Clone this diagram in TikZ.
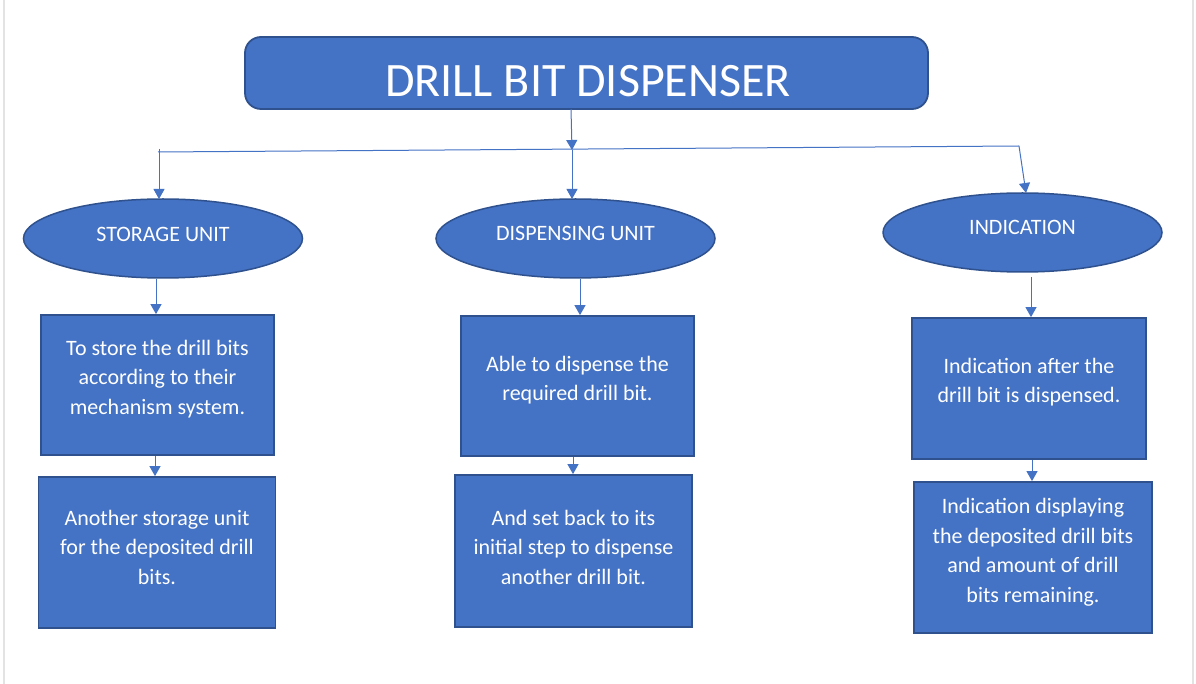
\documentclass[tikz,border=0pt]{standalone}
\usepackage{fontspec}
\setmainfont{Carlito}
\usetikzlibrary{arrows.meta,shapes.geometric}
\definecolor{fillblue}{HTML}{4472C4}
\definecolor{edgeblue}{HTML}{2F528F}
\definecolor{pageedge}{HTML}{E3E3E3}
\begin{document}
\begin{tikzpicture}[x=1pt,y=-1pt,
  shapebox/.style={draw=edgeblue,line width=1.8pt,fill=fillblue,inner sep=0pt,minimum width=#1},
  oval/.style={ellipse,draw=edgeblue,line width=1.5pt,fill=fillblue,inner sep=0pt,minimum width=279pt,minimum height=79pt},
  wtext/.style={text=white,align=center,font=\fontsize{22}{29.5}\selectfont,inner sep=0pt},
  otext/.style={text=white,font=\fontsize{22}{26}\selectfont,inner sep=0pt},
  conn/.style={draw=fillblue,line width=1pt,-{Triangle[width=11pt,length=10pt]}},
  plain/.style={draw=fillblue,line width=1pt}]
\useasboundingbox (0,0) rectangle (1196,684);
\fill[white] (0,0) rectangle (1196,684);
% page edges
\coordinate (pl1) at (4,0); \coordinate (pl2) at (4,684);
\coordinate (pr1) at (1193,0); \coordinate (pr2) at (1193,684);
\draw[pageedge,line width=2.5pt] (pl1) -- (pl2);
\draw[pageedge,line width=2.5pt] (pr1) -- (pr2);
% title
\node[shapebox=683pt,minimum height=72pt,rounded corners=16pt] (title) at (586.5,73) {};
\node[text=white,font=\fontsize{48}{52}\selectfont,inner sep=0pt] (titletext) at (588,81) {DRILL BIT DISPENSER};
% ellipses
\node[oval] (e1) at (163,238.5) {};
\node[oval] (e2) at (575.5,238.5) {};
\node[oval] (e3) at (1022.5,232.5) {};
\node[otext] (t1) at (163,234) {STORAGE UNIT};
\node[otext] (t2) at (575.5,233) {DISPENSING UNIT};
\node[otext] (t3) at (1022.5,227) {INDICATION};
% boxes
\node[shapebox=233pt,minimum height=140pt] (b1) at (157.5,385) {};
\node[shapebox=237pt,minimum height=151pt] (c1) at (157,552.5) {};
\node[shapebox=233pt,minimum height=140pt] (b2) at (577.5,386) {};
\node[shapebox=237pt,minimum height=152pt] (c2) at (573.5,551) {};
\node[shapebox=234pt,minimum height=141pt] (b3) at (1029,388.5) {};
\node[shapebox=238pt,minimum height=151pt] (c3) at (1033,557.5) {};
\node[wtext] (tb1) at (157.5,379) {To store the drill bits\\according to their\\mechanism system.};
\node[wtext] (tc1) at (157,547) {Another storage unit\\for the deposited drill\\bits.};
\node[wtext] (tb2) at (577.5,380) {Able to dispense the\\required drill bit.};
\node[wtext] (tc2) at (573.5,547) {And set back to its\\initial step to dispense\\another drill bit.};
\node[wtext] (tb3) at (1029,382) {Indication after the\\drill bit is dispensed.};
\node[wtext] (tc3) at (1033,552) {Indication displaying\\the deposited drill bits\\and amount of drill\\bits remaining.};
% bus
\coordinate (busL) at (158,152);
\coordinate (busLtop) at (159,149);
\coordinate (busM) at (572,150);
\coordinate (busR) at (1019,146);
\coordinate (titleout) at (571,109);
\coordinate (e1in) at (159,199);
\coordinate (e2in) at (572,199);
\coordinate (e3in) at (1026,193);
\draw[conn] (titleout) -- (busM);
\draw[plain] (busL) -- (busR);
\draw[conn] (busLtop) -- (e1in);
\draw[conn] (busM) -- (e2in);
\draw[conn] (busR) -- (e3in);
% down arrows
\draw[conn] (e1.south -| 156,0) -- (b1.north -| 156,0);
\draw[conn] (e2.south -| 580,0) -- (b2.north -| 580,0);
\draw[conn] (1031,277) -- (b3.north -| 1031,0);
\draw[conn] (b1.south -| 155,0) -- (c1.north -| 155,0);
\draw[conn] (b2.south -| 573,0) -- (c2.north -| 573,0);
\draw[conn] (b3.south -| 1032,0) -- (c3.north -| 1032,0);
\end{tikzpicture}
\end{document}
